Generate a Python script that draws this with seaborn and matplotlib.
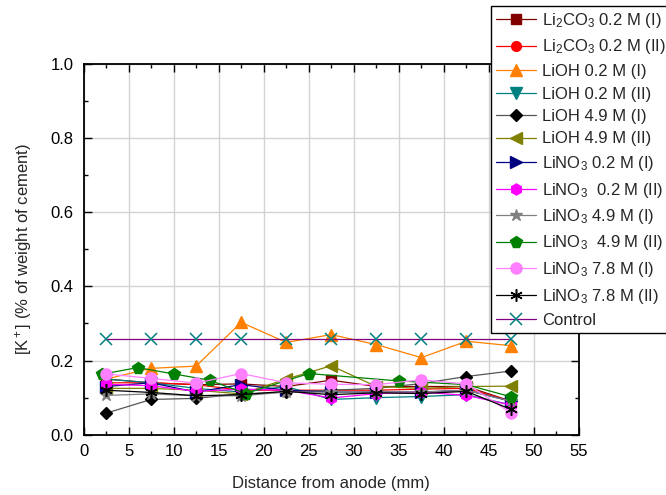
import numpy as np
import pandas as pd
import matplotlib
matplotlib.use("Agg")
import matplotlib.pyplot as plt
import seaborn as sns

# ---- data ----
x_std = [2.5, 7.5, 12.5, 17.5, 22.5, 27.5, 32.5, 37.5, 42.5, 47.5]
x_green = [2.0, 6.0, 10.0, 14.0, 18.0, 25.0, 35.0, 42.5, 47.5]

li2co3_02_I = [0.150, 0.140, 0.135, 0.137, 0.130, 0.147, 0.130, 0.130, 0.130, 0.090]
li2co3_02_II = [0.140, 0.140, 0.135, 0.120, 0.120, 0.120, 0.120, 0.123, 0.125, 0.090]
lioh_02_I = [0.150, 0.179, 0.185, 0.303, 0.249, 0.270, 0.243, 0.208, 0.252, 0.240]
lioh_02_II = [0.150, 0.140, 0.125, 0.115, 0.130, 0.095, 0.100, 0.103, 0.108, 0.080]
lioh_49_I = [0.058, 0.095, 0.098, 0.110, 0.115, 0.120, 0.125, 0.138, 0.157, 0.172]
lioh_49_II = [0.125, 0.125, 0.120, 0.110, 0.150, 0.186, 0.130, 0.125, 0.130, 0.131]
lino3_02_I = [0.130, 0.140, 0.115, 0.135, 0.120, 0.115, 0.115, 0.115, 0.120, 0.090]
lino3_02_II = [0.136, 0.132, 0.117, 0.123, 0.120, 0.099, 0.111, 0.115, 0.106, 0.080]
lino3_49_I = [0.106, 0.110, 0.105, 0.105, 0.115, 0.115, 0.115, 0.115, 0.120, 0.090]
lino3_49_II = [0.163, 0.181, 0.164, 0.147, 0.111, 0.165, 0.145, 0.135, 0.102]
lino3_78_I = [0.164, 0.152, 0.139, 0.165, 0.140, 0.136, 0.135, 0.148, 0.137, 0.058]
lino3_78_II = [0.120, 0.114, 0.105, 0.108, 0.117, 0.108, 0.113, 0.111, 0.117, 0.068]
control = [0.257, 0.257, 0.257, 0.257, 0.257, 0.257, 0.257, 0.257, 0.257, 0.257]

labels = [
    "Li$_2$CO$_3$ 0.2 M (I)",
    "Li$_2$CO$_3$ 0.2 M (II)",
    "LiOH 0.2 M (I)",
    "LiOH 0.2 M (II)",
    "LiOH 4.9 M (I)",
    "LiOH 4.9 M (II)",
    "LiNO$_3$ 0.2 M (I)",
    "LiNO$_3$  0.2 M (II)",
    "LiNO$_3$ 4.9 M (I)",
    "LiNO$_3$  4.9 M (II)",
    "LiNO$_3$ 7.8 M (I)",
    "LiNO$_3$ 7.8 M (II)",
    "Control",
]
xticks = [0, 5, 10, 15, 20, 25, 30, 35, 40, 45, 50, 55]
yticks = [0.0, 0.2, 0.4, 0.6, 0.8, 1.0]

series = [
    (x_std, li2co3_02_I, "#800000", "#800000", "s", 6.5),
    (x_std, li2co3_02_II, "#FF0000", "#FF0000", "o", 7),
    (x_std, lioh_02_I, "#FF8000", "#FF8000", "^", 8),
    (x_std, lioh_02_II, "#008080", "#008080", "v", 8),
    (x_std, lioh_49_I, "#555555", "#000000", "D", 6.5),
    (x_std, lioh_49_II, "#808000", "#808000", "<", 8),
    (x_std, lino3_02_I, "#000080", "#000080", ">", 8),
    (x_std, lino3_02_II, "#FF00FF", "#FF00FF", "h", 8),
    (x_std, lino3_49_I, "#808080", "#808080", "*", 9),
    (x_green, lino3_49_II, "#008000", "#008000", "p", 8.5),
    (x_std, lino3_78_I, "#FF80FF", "#FF80FF", "o", 8),
    (x_std, lino3_78_II, "#000000", "#000000", (6, 2, 0), 9),
    (x_std, control, "#800080", "#008080", "x", 8),
]

sns.set_theme(style="white")
plt.rcParams["font.family"] = ["Liberation Sans", "DejaVu Sans"]
plt.rcParams["mathtext.fontset"] = "custom"
plt.rcParams["mathtext.rm"] = "Liberation Sans"
plt.rcParams["mathtext.it"] = "Liberation Sans:italic"
plt.rcParams["mathtext.default"] = "regular"

fig = plt.figure(figsize=(6.66, 4.95), dpi=100)
ax = fig.add_axes([83.5 / 666, 1 - 434.7 / 495, (579 - 83.5) / 666, (434.7 - 64) / 495])

for (xs, ys, lc, mc, mk, ms), lab in zip(series, labels):
    df = pd.DataFrame({"x": xs, "y": ys})
    sns.lineplot(data=df, x="x", y="y", ax=ax, color=lc, linewidth=0.9,
                 marker=mk, markersize=ms, markerfacecolor=mc,
                 markeredgecolor=mc, markeredgewidth=1.0 if mk not in ("x", (6, 2, 0)) else 1.1,
                 label=lab, sort=False, estimator=None)

ax.set_xlim(0, 55)
ax.set_ylim(0, 1.0)
ax.set_xticks(xticks)
ax.set_xticklabels([str(t) for t in xticks])
ax.set_yticks(yticks)
ax.set_yticklabels([f"{t:.1f}" for t in yticks])
ax.set_xticks(np.arange(2.5, 55, 5), minor=True)
ax.set_yticks(np.arange(0.1, 1.0, 0.2), minor=True)
ax.grid(True, which="major", color="#d3d3d3", linewidth=1.0)
ax.set_axisbelow(True)
ax.tick_params(which="both", direction="in", top=True, right=True,
               bottom=True, left=True, labelsize=12, colors="black")
ax.tick_params(which="major", length=6, width=1.0, pad=7)
ax.tick_params(which="minor", length=3, width=1.0)
for s in ax.spines.values():
    s.set_color("black")
    s.set_linewidth(1.3)

ax.set_xlabel("Distance from anode (mm)", fontsize=12, labelpad=12)
ax.set_ylabel("[K$^+$] (% of weight of cement)", fontsize=12, labelpad=12)

ax.get_legend().remove()
handles, labs = ax.get_legend_handles_labels()
leg = fig.legend(handles, labs, loc="upper left",
                 bbox_to_anchor=(491 / 666, 1 - 6 / 495),
                 fontsize=12, frameon=True, fancybox=False,
                 edgecolor="black", framealpha=1, handlelength=2.4,
                 handletextpad=0.35, labelspacing=0.45, borderpad=0.3,
                 borderaxespad=0)
leg.get_frame().set_linewidth(1.0)

fig.savefig("out.png", dpi=100)
